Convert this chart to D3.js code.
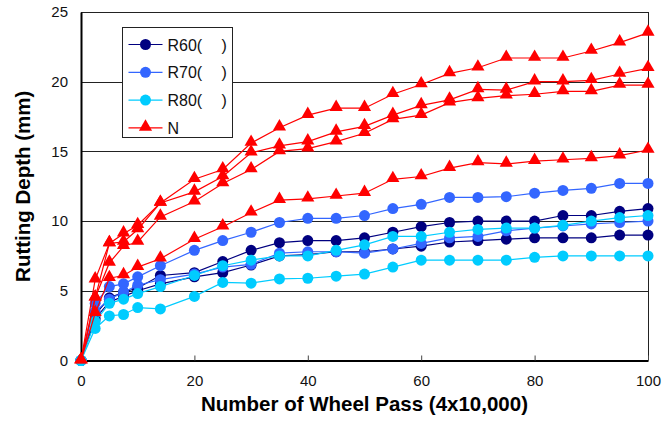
<!DOCTYPE html>
<html>
<head>
<meta charset="utf-8">
<script src="https://cdn.jsdelivr.net/npm/d3@7"></script>
<style>
  body { margin: 0; background: #fff; }
  text { font-family: "Liberation Sans", Arial, sans-serif; }
</style>
</head>
<body>
<div id="viz"></div>
<script>

// wheel passes (x 4x10,000)
var passes = [0, 2.5, 5, 7.5, 10, 14, 20, 25, 30, 35, 40, 45, 50, 55, 60, 65, 70, 75, 80, 85, 90, 95, 100];

// rutting depth (mm), two specimens for each R mix, four for N
var r60a = [0, 3.3, 4.5, 4.9, 5.2, 6.1, 6.3, 7.1, 7.9, 8.45, 8.6, 8.6, 8.8, 9.2, 9.6, 9.9, 10.0, 10.0, 10.0, 10.4, 10.4, 10.7, 10.9];
var r60b = [0, 3.0, 4.2, 4.6, 5.0, 5.5, 6.0, 6.3, 6.85, 7.5, 7.6, 7.8, 7.8, 8.0, 8.2, 8.5, 8.6, 8.7, 8.8, 8.8, 8.8, 9.0, 9.0];
var r70a = [0, 4.1, 5.3, 5.5, 6.0, 6.8, 7.9, 8.6, 9.2, 9.9, 10.2, 10.2, 10.4, 10.9, 11.2, 11.7, 11.7, 11.75, 12.0, 12.2, 12.35, 12.7, 12.7];
var r70b = [0, 3.5, 4.4, 4.9, 5.4, 5.8, 6.2, 6.7, 6.9, 7.7, 7.8, 7.8, 7.7, 8.0, 8.4, 8.8, 8.9, 9.3, 9.5, 9.65, 9.8, 9.9, 10.0];
var r80a = [0, 2.8, 4.1, 4.4, 4.8, 5.3, 6.1, 6.8, 7.2, 7.5, 7.5, 7.9, 8.3, 8.9, 8.9, 9.2, 9.4, 9.5, 9.5, 9.7, 10.0, 10.25, 10.4];
var r80b = [0, 2.3, 3.2, 3.3, 3.8, 3.7, 4.6, 5.6, 5.55, 5.85, 5.9, 6.05, 6.2, 6.7, 7.2, 7.2, 7.2, 7.2, 7.4, 7.5, 7.5, 7.5, 7.5];
var n1 = [0, 5.8, 8.4, 9.1, 9.7, 11.3, 13.0, 13.7, 15.6, 16.7, 17.6, 18.1, 18.1, 19.1, 19.8, 20.6, 21.0, 21.7, 21.7, 21.7, 22.2, 22.8, 23.5];
var n2 = [0, 4.5, 8.4, 8.5, 9.4, 11.3, 12.1, 13.2, 14.9, 15.4, 15.7, 16.4, 16.8, 17.6, 18.3, 18.7, 19.45, 19.4, 20.0, 20.0, 20.1, 20.55, 20.96];
var n3 = [0, 4.5, 7.0, 8.2, 8.5, 10.3, 11.4, 12.7, 13.7, 15.0, 15.2, 15.7, 16.3, 17.3, 17.6, 18.5, 18.8, 19.0, 19.1, 19.3, 19.3, 19.76, 19.76];
var n4 = [0, 3.4, 5.9, 6.1, 6.7, 7.3, 8.7, 9.6, 10.6, 11.5, 11.6, 11.8, 12.0, 13.0, 13.2, 13.8, 14.2, 14.1, 14.3, 14.4, 14.5, 14.7, 15.1];

var groups = ["R60(", "R70(", "R80(", "N"];
var xTicks = [0, 20, 40, 60, 80, 100];
var yTicks = [0, 5, 10, 15, 20, 25];

var series = [
  {group: "R60(", values: r60a}, {group: "R60(", values: r60b},
  {group: "R70(", values: r70a}, {group: "R70(", values: r70b},
  {group: "R80(", values: r80a}, {group: "R80(", values: r80b},
  {group: "N", values: n1}, {group: "N", values: n2},
  {group: "N", values: n3}, {group: "N", values: n4}
];

var color = d3.scaleOrdinal()
  .domain(groups)
  .range(["#000080", "#3366ff", "#00ccff", "#ff0000"]);

var svg = d3.select("#viz").append("svg")
  .attr("width", 662)
  .attr("height", 421);

var x = d3.scaleLinear().domain([0, 100]).range([81, 648]);
var y = d3.scaleLinear().domain([0, 25]).range([360.5, 12]);

// gridlines
svg.append("g")
  .selectAll("line")
  .data(yTicks.slice(1))
  .enter().append("line")
    .attr("x1", x(0)).attr("x2", x(100))
    .attr("y1", function(d){return Math.round(y(d)) + 0.5})
    .attr("y2", function(d){return Math.round(y(d)) + 0.5})
    .attr("stroke", "#222")
    .attr("stroke-width", 1);

// right border
svg.append("line")
  .attr("x1", x(100) + 0.5).attr("x2", x(100) + 0.5)
  .attr("y1", y(25)).attr("y2", y(0))
  .attr("stroke", "#222");

// x axis
var xAxis = svg.append("g")
  .attr("transform", "translate(0," + y(0) + ")")
  .call(d3.axisBottom(x).tickValues(xTicks).tickSizeInner(-5).tickSizeOuter(0).tickPadding(15));
xAxis.select(".domain").attr("stroke", "#000").attr("stroke-width", 2);
xAxis.selectAll(".tick line").attr("stroke", "#444");
xAxis.selectAll("text").attr("font-size", 15).attr("fill", "#111")
  .attr("font-family", "Liberation Sans, Arial, sans-serif");

// y axis
var yAxis = svg.append("g")
  .attr("transform", "translate(" + x(0) + ",0)")
  .call(d3.axisLeft(y).tickValues(yTicks).tickSize(0).tickPadding(13));
yAxis.select(".domain").attr("stroke", "#000").attr("stroke-width", 2);
yAxis.selectAll("text").attr("font-size", 15).attr("fill", "#111")
  .attr("font-family", "Liberation Sans, Arial, sans-serif");

// titles
svg.append("text")
  .attr("x", (x(0) + x(100)) / 2)
  .attr("y", 411)
  .attr("text-anchor", "middle")
  .attr("font-size", 20.5)
  .attr("font-weight", "bold")
  .text("Number of Wheel Pass (4x10,000)");

svg.append("text")
  .attr("transform", "translate(30," + (y(0) + y(25)) / 2 + ") rotate(-90)")
  .attr("text-anchor", "middle")
  .attr("font-size", 20.5)
  .attr("font-weight", "bold")
  .text("Rutting Depth (mm)");

var line = d3.line()
  .x(function(d){return x(d[0])})
  .y(function(d){return y(d[1])});

var tri = d3.symbol().type(d3.symbolTriangle).size(75);

series.forEach(function(s){
  var pts = passes.map(function(p, i){return [p, s.values[i]]});
  var c = color(s.group);
  var g = svg.append("g");

  g.append("path")
    .datum(pts)
    .attr("d", line)
    .attr("fill", "none")
    .attr("stroke", c)
    .attr("stroke-width", 1.2);

  if (s.group == "N") {
    g.selectAll("path.m")
      .data(pts)
      .enter().append("path")
        .attr("class", "m")
        .attr("d", tri)
        .attr("transform", function(d){return "translate(" + x(d[0]) + "," + (y(d[1]) - 1) + ")"})
        .attr("fill", c);
  } else {
    g.selectAll("circle")
      .data(pts)
      .enter().append("circle")
        .attr("cx", function(d){return x(d[0])})
        .attr("cy", function(d){return y(d[1])})
        .attr("r", 5.5)
        .attr("fill", c);
  }
});

// legend
var legend = svg.append("g").attr("transform", "translate(122.5,27.5)");

legend.append("rect")
  .attr("width", 110)
  .attr("height", 110)
  .attr("fill", "#fff")
  .attr("stroke", "#222");

var item = legend.selectAll("g.item")
  .data(groups)
  .enter().append("g")
    .attr("class", "item")
    .attr("transform", function(d, i){return "translate(0," + (17 + i * 27.8) + ")"});

item.append("line")
  .attr("x1", 6).attr("x2", 40)
  .attr("stroke", function(d){return color(d)})
  .attr("stroke-width", 1.2);

item.each(function(d){
  var el = d3.select(this);
  if (d == "N") {
    el.append("path").attr("d", tri).attr("transform", "translate(23,-1)").attr("fill", color(d));
  } else {
    el.append("circle").attr("cx", 23).attr("r", 5.5).attr("fill", color(d));
  }
});

var lt = item.append("text")
  .attr("x", 45)
  .attr("y", 6)
  .attr("font-size", 16)
  .attr("fill", "#111")
  .text(function(d){return d});

lt.filter(function(d){return d != "N"})
  .append("tspan")
  .attr("x", 99)
  .text(")");

</script>
</body>
</html>
